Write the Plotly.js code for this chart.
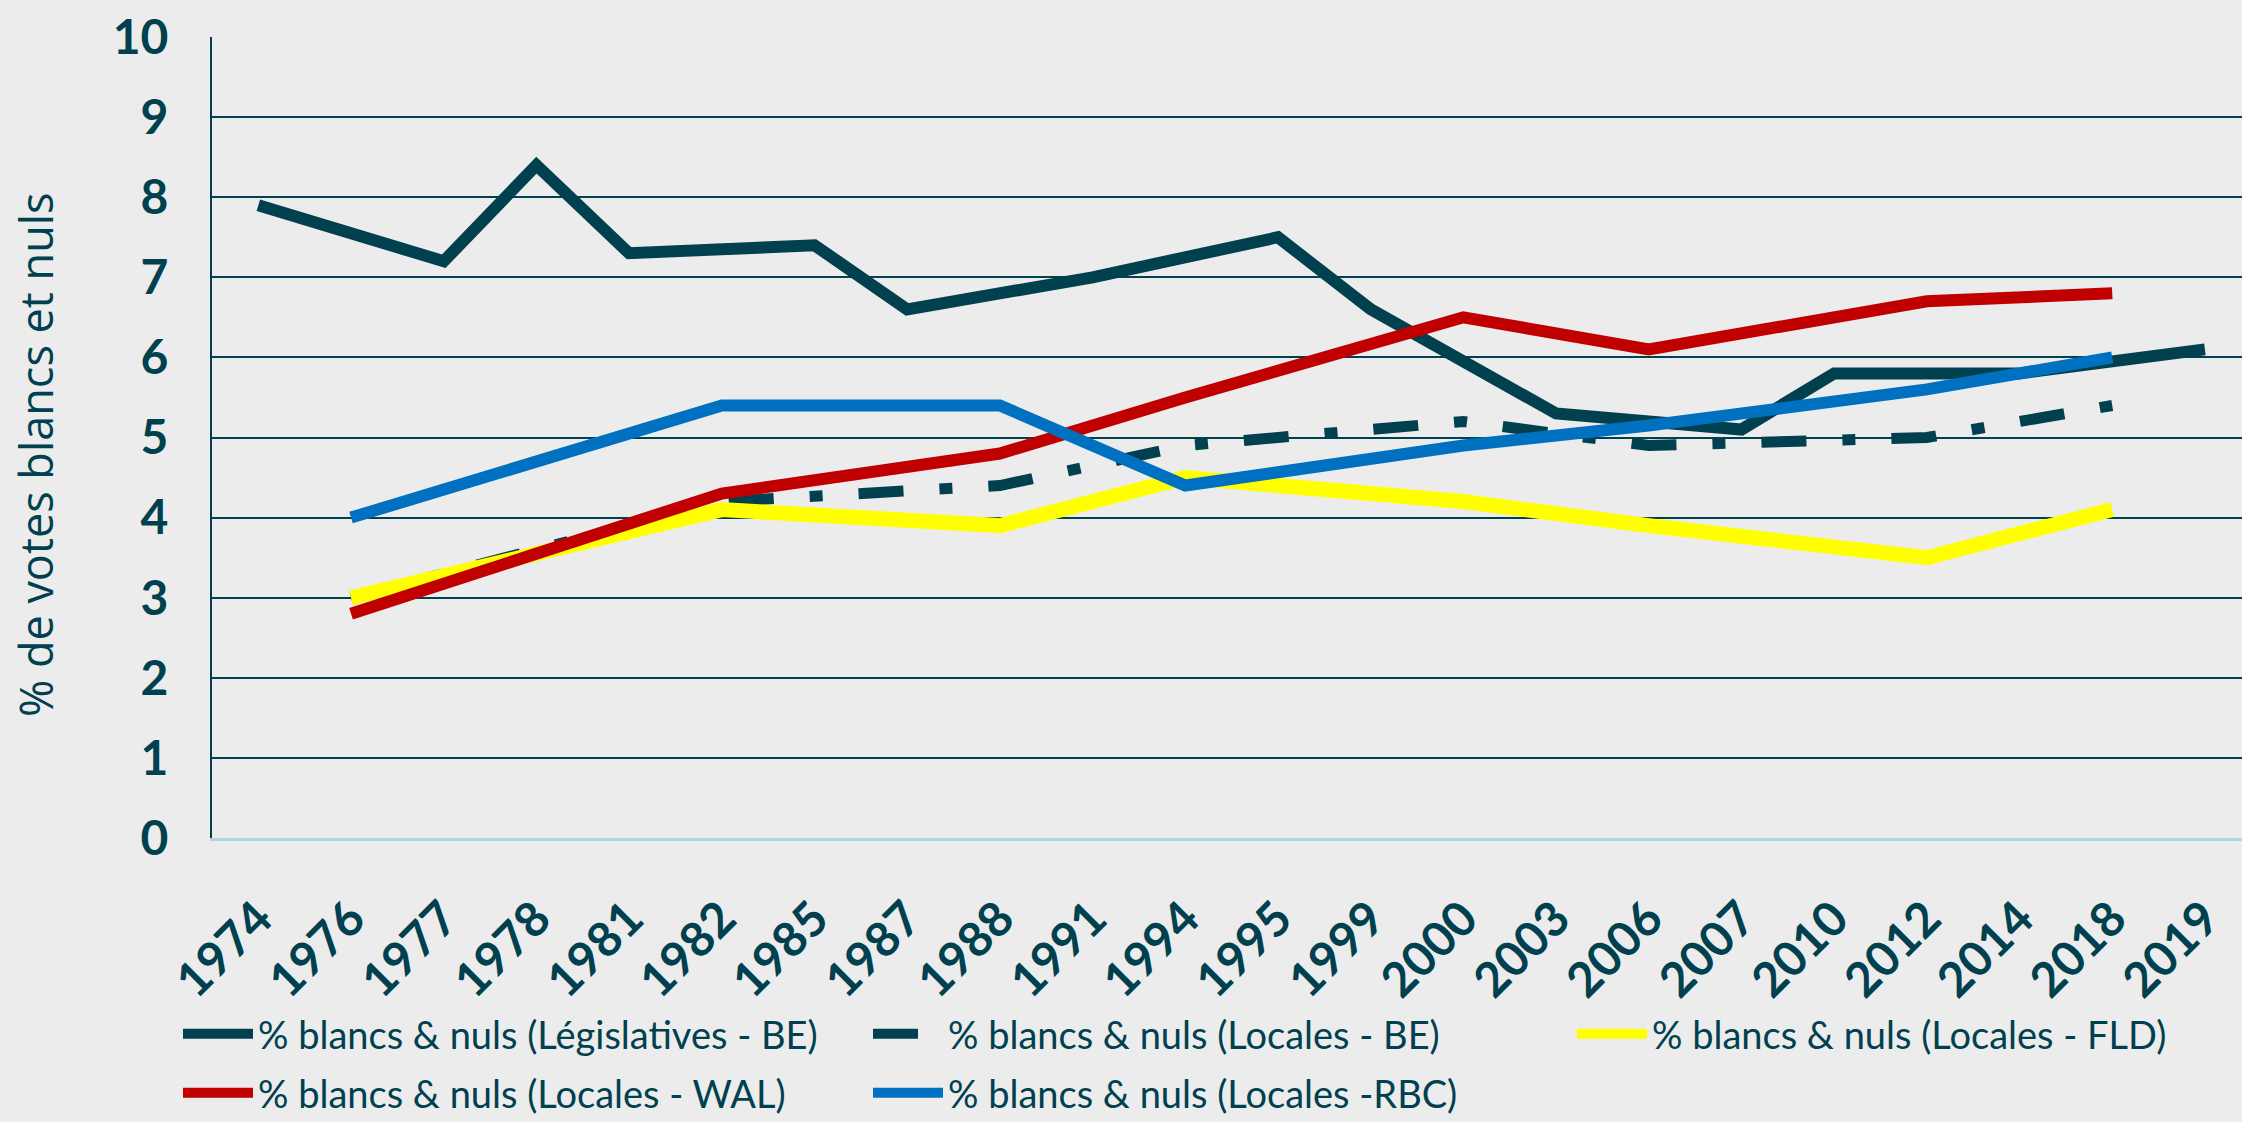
<!DOCTYPE html>
<html>
<head>
<meta charset="utf-8">
<script src="https://cdn.plot.ly/plotly-3.0.1.min.js"></script>
<style>html,body{margin:0;padding:0;background:#ECECEC;}</style>
</head>
<body>
<div id="chart" style="width:2242px;height:1122px;"></div>
<script>
const years = ['1974','1976','1977','1978','1981','1982','1985','1987','1988','1991','1994','1995','1999','2000','2003','2006','2007','2010','2012','2014','2018','2019'];

const legislativesBE = [7.9, null, 7.2, 8.4, 7.3, null, 7.4, 6.6, null, 7.0, null, 7.5, 6.6, null, 5.3, null, 5.1, 5.8, null, 5.8, null, 6.1];
const localesBE      = [null, 3.0, null, null, null, 4.2, null, null, 4.4, null, 4.9, null, null, 5.2, null, 4.9, null, null, 5.0, null, 5.4, null];
const localesFLD     = [null, 3.0, null, null, null, 4.1, null, null, 3.9, null, 4.5, null, null, 4.2, null, 3.9, null, null, 3.5, null, 4.1, null];
const localesWAL     = [null, 2.8, null, null, null, 4.3, null, null, 4.8, null, 5.5, null, null, 6.5, null, 6.1, null, null, 6.7, null, 6.8, null];
const localesRBC     = [null, 4.0, null, null, null, 5.4, null, null, 5.4, null, 4.4, null, null, 4.9, null, 5.15, null, null, 5.6, null, 6.0, null];

const seriesNames = [
  '% blancs & nuls (Législatives - BE)',
  '% blancs & nuls (Locales - BE)',
  '% blancs & nuls (Locales - FLD)',
  '% blancs & nuls (Locales - WAL)',
  '% blancs & nuls (Locales -RBC)'
];
const yTitle = '% de votes blancs et nuls';

const TEAL = '#00404F';
const BG = '#ECECEC';

function tr(y, name, color, width, dash, legendId) {
  return {
    type: 'scatter', mode: 'lines', x: years, y: y, name: name,
    connectgaps: true,
    line: {color: color, width: width, dash: dash || 'solid', shape: 'linear'},
    legend: legendId, hoverinfo: 'skip'
  };
}

const data = [
  tr(legislativesBE, seriesNames[0], TEAL, 12, 'solid', 'legend'),
  tr(localesBE, seriesNames[1], TEAL, 11, '45px,36px,13px,36px', 'legend2'),
  tr(localesFLD, seriesNames[2], '#FFFF00', 15, 'solid', 'legend3'),
  tr(localesWAL, seriesNames[3], '#C00000', 12, 'solid', 'legend4'),
  tr(localesRBC, seriesNames[4], '#0070C0', 12, 'solid', 'legend5')
];

function leg(xpx, ypx) {
  return {
    xref: 'container', yref: 'container',
    x: xpx / 2242, y: 1 - ypx / 1122,
    xanchor: 'left', yanchor: 'middle',
    orientation: 'h', bgcolor: 'rgba(0,0,0,0)', borderwidth: 0,
    itemwidth: 70,
    font: {family: 'Lato, sans-serif', size: 38, color: TEAL}
  };
}

const layout = {
  width: 2242, height: 1122,
  paper_bgcolor: BG, plot_bgcolor: BG,
  margin: {l: 212, r: 0, t: 37, b: 284, pad: 0},
  showlegend: true,
  xaxis: {
    type: 'category', range: [-0.5, 21.4],
    showgrid: false, zeroline: false,
    showline: true, linecolor: '#A9D8E2', linewidth: 3,
    ticks: '', tickangle: -45, ticklabelstandoff: 30,
    tickfont: {family: 'Lato, sans-serif', size: 48, color: TEAL, weight: 'bold'}
  },
  yaxis: {
    range: [0, 10], dtick: 1, tick0: 0,
    showgrid: true, gridcolor: TEAL, gridwidth: 2,
    zeroline: false,
    showline: true, linecolor: TEAL, linewidth: 2,
    ticks: '', ticklabelstandoff: 32,
    tickfont: {family: 'Lato, sans-serif', size: 48, color: TEAL, weight: 'bold'}
  },
  legend: leg(178, 1034),
  legend2: leg(868, 1034),
  legend3: leg(1572, 1034),
  legend4: leg(178, 1093),
  legend5: leg(868, 1093),
  annotations: [{
    xref: 'paper', yref: 'paper',
    x: (36 - 212) / 2030, y: (838 - 455) / 801,
    xanchor: 'center', yanchor: 'middle',
    text: yTitle, textangle: -90, showarrow: false,
    font: {family: 'Open Sans, sans-serif', size: 45, color: TEAL}
  }]
};

Plotly.newPlot('chart', data, layout, {staticPlot: true, displayModeBar: false});
</script>
</body>
</html>
